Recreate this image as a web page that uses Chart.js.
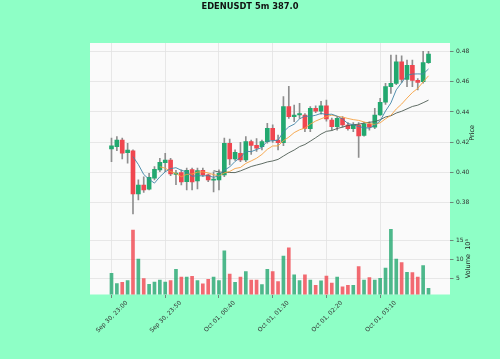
<!DOCTYPE html>
<html><head><meta charset="utf-8">
<script src="https://cdn.jsdelivr.net/npm/chart.js@4.4.1/dist/chart.umd.min.js"></script>
<style>html,body{margin:0;padding:0;background:#8effc6;overflow:hidden}</style>
</head><body>
<canvas id="c" width="500" height="359"></canvas>
<script>
const tickIndex = [0, 10, 20, 30, 40, 50];
const tickLabels = ["Sep 30, 23:00", "Sep 30, 23:50", "Oct 01, 00:40", "Oct 01, 01:30", "Oct 01, 02:20", "Oct 01, 03:10"];
const opens = [
0.4157,0.4171,0.4215,0.4132,0.4143,0.3859,0.3917,0.3890,0.3963,0.4018,
0.4066,0.4083,0.3988,0.4000,0.3940,0.4020,0.3945,0.4015,0.3985,0.3950,
0.3952,0.3985,0.4194,0.4090,0.4128,0.4083,0.4204,0.4180,0.4171,0.4204,
0.4292,0.4215,0.4198,0.4435,0.4369,0.4380,0.4380,0.4290,0.4424,0.4406,
0.4440,0.4347,0.4303,0.4358,0.4314,0.4290,0.4314,0.4245,0.4320,0.4299,
0.4380,0.4464,0.4567,0.4589,0.4731,0.4614,0.4708,0.4608,0.4600,0.4726];
const highs = [
0.4227,0.4237,0.4227,0.4193,0.4150,0.3952,0.3973,0.3996,0.4040,0.4095,
0.4128,0.4095,0.4015,0.4018,0.4030,0.4030,0.4030,0.4030,0.3990,0.4006,
0.4018,0.4227,0.4222,0.4150,0.4200,0.4237,0.4215,0.4225,0.4215,0.4325,
0.4315,0.4248,0.4501,0.4570,0.4446,0.4457,0.4390,0.4435,0.4440,0.4470,
0.4479,0.4360,0.4370,0.4370,0.4330,0.4330,0.4330,0.4330,0.4335,0.4424,
0.4490,0.4589,0.4776,0.4776,0.4770,0.4743,0.4743,0.4620,0.4800,0.4800];
const lows = [
0.4072,0.4145,0.4090,0.4062,0.3727,0.3820,0.3870,0.3886,0.3952,0.4006,
0.4006,0.3980,0.3920,0.3919,0.3886,0.3886,0.3893,0.3975,0.3940,0.3873,
0.3886,0.3974,0.4050,0.4080,0.4072,0.4072,0.4120,0.4140,0.4150,0.4194,
0.4200,0.4150,0.4178,0.4358,0.4336,0.4358,0.4270,0.4270,0.4395,0.4385,
0.4340,0.4280,0.4280,0.4300,0.4280,0.4270,0.4101,0.4240,0.4280,0.4290,
0.4378,0.4450,0.4523,0.4580,0.4595,0.4567,0.4567,0.4545,0.4590,0.4720];
const closes = [
0.4176,0.4215,0.4128,0.4149,0.3859,0.3917,0.3886,0.3969,0.4022,0.4068,
0.4083,0.3991,0.3997,0.3938,0.4015,0.3938,0.4013,0.3985,0.3952,0.3955,
0.3996,0.4194,0.4090,0.4134,0.4083,0.4204,0.4180,0.4161,0.4204,0.4292,
0.4215,0.4198,0.4435,0.4369,0.4380,0.4390,0.4292,0.4424,0.4406,0.4440,
0.4354,0.4303,0.4358,0.4314,0.4290,0.4314,0.4242,0.4322,0.4299,0.4380,
0.4464,0.4567,0.4589,0.4731,0.4614,0.4708,0.4608,0.4595,0.4726,0.4782];
const volumes = [ // units of 10^5
6.3,3.6,3.9,4.4,17.8,10.1,4.9,3.4,4.0,4.5,
4.0,4.4,7.4,5.3,5.3,5.5,4.4,3.5,4.7,5.3,
4.4,12.3,6.1,3.9,5.3,6.8,4.5,4.5,3.3,7.4,
6.8,4.1,10.9,13.1,5.9,4.4,5.9,4.5,3.1,4.3,
5.6,3.75,5.3,2.7,3.1,3.1,8.1,4.5,5.2,4.5,
5.0,7.7,18.0,10.1,9.2,6.6,6.5,5.3,8.4,2.3];
const maPeriods = [5, 10, 20];
const maColors = ['#3f84a6', '#f5a040', '#4e5c54'];
const priceTicks = [0.38, 0.40, 0.42, 0.44, 0.46, 0.48];
const volumeTicks = [5, 10, 15];

const FONT = 'DejaVu Sans';
const UP = '#22a86f', DOWN = '#f0464f';
const UPV = 'rgba(34,168,111,0.8)', DOWNV = 'rgba(240,70,79,0.8)';
const idx = closes.map((_, i) => i);
const isUp = idx.map(i => closes[i] >= opens[i]);
function sma(p) {
  return idx.map(i => i < p - 1 ? null : closes.slice(i - p + 1, i + 1).reduce((a, b) => a + b, 0) / p);
}

const datasets = [];
maPeriods.forEach((p, k) => {
  const m = sma(p);
  datasets.push({type: 'line', label: 'MA' + p, data: idx.map(i => ({x: i, y: m[i]})),
    yAxisID: 'y', xAxisID: 'x', borderColor: maColors[k], borderWidth: 0.9, pointRadius: 0,
    tension: 0, spanGaps: false, order: 1});
});
datasets.push({type: 'bar', label: 'wick', data: idx.map(i => ({x: i, y: [lows[i], highs[i]]})),
  yAxisID: 'y', xAxisID: 'x', backgroundColor: '#8e8e8e', barThickness: 1, grouped: false, order: 4});
datasets.push({type: 'bar', label: 'body', data: idx.map(i => ({x: i, y: [opens[i], closes[i]]})),
  yAxisID: 'y', xAxisID: 'x', backgroundColor: idx.map(i => isUp[i] ? UP : DOWN),
  barThickness: 4, minBarLength: 1, grouped: false, order: 3});
datasets.push({type: 'bar', label: 'volume', data: idx.map(i => ({x: i, y: volumes[i]})),
  yAxisID: 'yv', xAxisID: 'x', backgroundColor: idx.map(i => isUp[i] ? UPV : DOWNV),
  barThickness: 3, grouped: false, order: 2});

const bgPlugin = {
  id: 'bg',
  beforeDraw(chart) {
    const {ctx, chartArea: a} = chart;
    ctx.save();
    ctx.fillStyle = '#8effc6';
    ctx.fillRect(0, 0, chart.width, chart.height);
    ctx.fillStyle = '#fafafa';
    ctx.fillRect(a.left, a.top, a.right - a.left, a.bottom - a.top);
    ctx.restore();
  },
  afterDraw(chart) {
    const {ctx} = chart;
    const y = chart.scales.y, yv = chart.scales.yv;
    ctx.save();
    ctx.fillStyle = '#222';
    ctx.font = '6.5px "' + FONT + '"';
    ctx.textAlign = 'center';
    ctx.textBaseline = 'middle';
    ctx.translate(472, (y.top + y.bottom) / 2);
    ctx.rotate(-Math.PI / 2);
    ctx.fillText('Price', 0, 0);
    ctx.restore();
    ctx.save();
    ctx.fillStyle = '#222';
    ctx.font = '6.5px "' + FONT + '"';
    ctx.textAlign = 'center';
    ctx.textBaseline = 'middle';
    ctx.translate(468.5, (yv.top + yv.bottom) / 2);
    ctx.rotate(-Math.PI / 2);
    ctx.fillText('Volume  10\u2075', 0, 0);
    ctx.restore();
  }
};

const gridCommon = {color: '#e2e2e2', lineWidth: 0.8, tickLength: 3.5, tickColor: '#666', tickWidth: 0.8, offset: false};

new Chart(document.getElementById('c'), {
  data: {datasets},
  plugins: [bgPlugin],
  options: {
    responsive: false, animation: false, devicePixelRatio: 1,
    layout: {padding: {left: 0, right: 0, top: 0, bottom: 0}},
    plugins: {
      legend: {display: false}, tooltip: {enabled: false},
      title: {display: true, text: 'EDENUSDT 5m 387.0', color: '#111',
        font: {family: FONT, size: 8.3, weight: 'bold'}, padding: {top: 2, bottom: 31.04}}
    },
    scales: {
      x: {type: 'linear', min: -4, max: 63, offset: false,
        afterBuildTicks: s => { s.ticks = tickIndex.map(v => ({value: v})); },
        afterFit: s => { s.height = 64.5; },
        ticks: {autoSkip: false, minRotation: 45, maxRotation: 45, labelOffset: 15.3, padding: 1.5,
          color: '#333', font: {family: FONT, size: 6},
          callback: v => { const k = tickIndex.indexOf(v); return k >= 0 ? tickLabels[k] : ''; }},
        grid: gridCommon, border: {display: false}},
      yl: {type: 'linear', position: 'left', display: true,
        afterFit: s => { s.width = 90; },
        ticks: {display: false}, grid: {display: false, drawTicks: false}, border: {display: false}},
      y: {type: 'linear', position: 'right', stack: 'panels', stackWeight: 5, min: 0.367, max: 0.4855,
        afterBuildTicks: s => { s.ticks = priceTicks.map(v => ({value: v})); },
        afterFit: s => { s.width = 50; },
        ticks: {padding: 2.5, color: '#333', font: {family: FONT, size: 6}, callback: v => v.toFixed(2)},
        grid: gridCommon, border: {display: false}},
      yv: {type: 'linear', position: 'right', stack: 'panels', stackWeight: 2, min: 0.69, max: 19.8,
        afterBuildTicks: s => { s.ticks = volumeTicks.map(v => ({value: v})); },
        afterFit: s => { s.width = 50; },
        ticks: {padding: 2.5, color: '#333', font: {family: FONT, size: 6}, callback: v => String(v)},
        grid: gridCommon, border: {display: false}}
    }
  }
});
</script>
</body></html>
